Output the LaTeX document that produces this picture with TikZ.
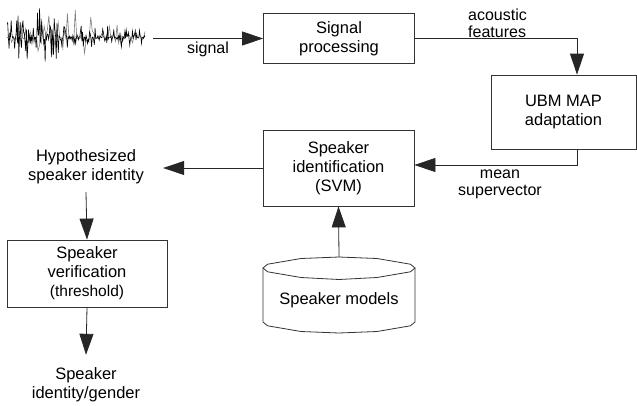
\documentclass[tikz,border=0pt]{standalone}
\usepackage{fontspec}
\setmainfont{Liberation Sans}
\usetikzlibrary{arrows.meta,calc}
\begin{document}
\begin{tikzpicture}[x=1pt,y=-1pt,
  declare function={cub(\r)=\r*\r*\r; qn(\r)=\r*\r*\r*\r*\r;},
  box/.style={draw=black!80, line width=0.8pt, align=center, inner sep=0pt,
    font=\fontsize{16.5}{19}\selectfont},
  txt/.style={align=center, inner sep=0pt, font=\fontsize{16.5}{19}\selectfont},
  lbl/.style={inner sep=0pt, font=\fontsize{16}{17}\selectfont},
  arr/.style={-{Triangle[length=21pt,width=14pt]}, line width=0.8pt, draw=black!85},
  cyl/.style={draw=black!80, line width=0.8pt}]
\useasboundingbox (0,0) rectangle (637,405);

% waveform
\pgfmathsetseed{11}
\draw[line width=0.6pt, black!50] plot[samples=90, domain=7:145, variable=\t]
  (\t, {37 + 2*rand + (18+16*exp(-((\t-45)/40)^2))*qn(rand)});
\pgfmathsetseed{5}
\draw[line width=0.6pt, black] plot[samples=200, domain=7:145, variable=\t]
  (\t, {37 + (1+4*exp(-((\t-35)/25)^2))*rand + (10+22*exp(-((\t-35)/25)^2))*cub(rand)});
\coordinate (wend) at (153,38.5);

% boxes
\node[box, minimum width=151pt, minimum height=50pt] (sp) at (339,38.5) {Signal\\processing};
\node[box, minimum width=145pt, minimum height=74pt] (ubm) at (563.5,112) {UBM MAP\\adaptation};
\node[box, minimum width=151pt, minimum height=76pt] (si) at (338.5,168) {Speaker\\identification\\(SVM)};
\node[box, minimum width=160pt, minimum height=67pt] (sv) at (87,273.5)
  {Speaker\\verification\\{\fontsize{15.5}{17}\selectfont(threshold)}};

% text nodes
\node[txt, minimum width=154pt, minimum height=50pt] (hyp) at (86,167) {Hypothesized\\speaker identity};
\node[txt, minimum height=60pt] (out) at (86,385) {Speaker\\identity/gender};

% database cylinder
\draw[cyl] (415,268) -- (410.4,264.2) -- (377,258.5) -- (339,257) -- (301,258.5)
  -- (267.6,264.2) -- (263,268) -- (267.6,271.8) -- (301,277.5) -- (339,279.5)
  -- (377,277.5) -- (410.4,271.8) -- cycle;
\draw[cyl] (263,268) -- (263,322) -- (267.6,325.8) -- (301,331.5) -- (339,333)
  -- (377,331.5) -- (410.4,325.8) -- (415,322) -- (415,268);
\node[txt] (db) at (339,300) {Speaker models};
\coordinate (dbtop) at (339,257);

% connectors
\draw[arr] (wend) -- (sp.west);
\node[lbl] (sig) at (208,49) {signal};
\draw[arr] (sp.east) -| ([xshift=13.5pt]ubm.north);
\node[lbl, align=left, anchor=west] (af) at (468,23) {acoustic\\features};
\draw[arr] ([xshift=13.5pt]ubm.south) |- ([yshift=3pt]si.east);
\node[lbl, align=center] (ms) at (500,184) {mean\\supervector};
\draw[arr] (si.west) -- (si.west -| hyp.east);
\draw[arr] (hyp.south) -- (sv.north);
\draw[arr] (sv.south) -- (out.north);
\draw[arr] (dbtop) -- (si.south);
\end{tikzpicture}
\end{document}
